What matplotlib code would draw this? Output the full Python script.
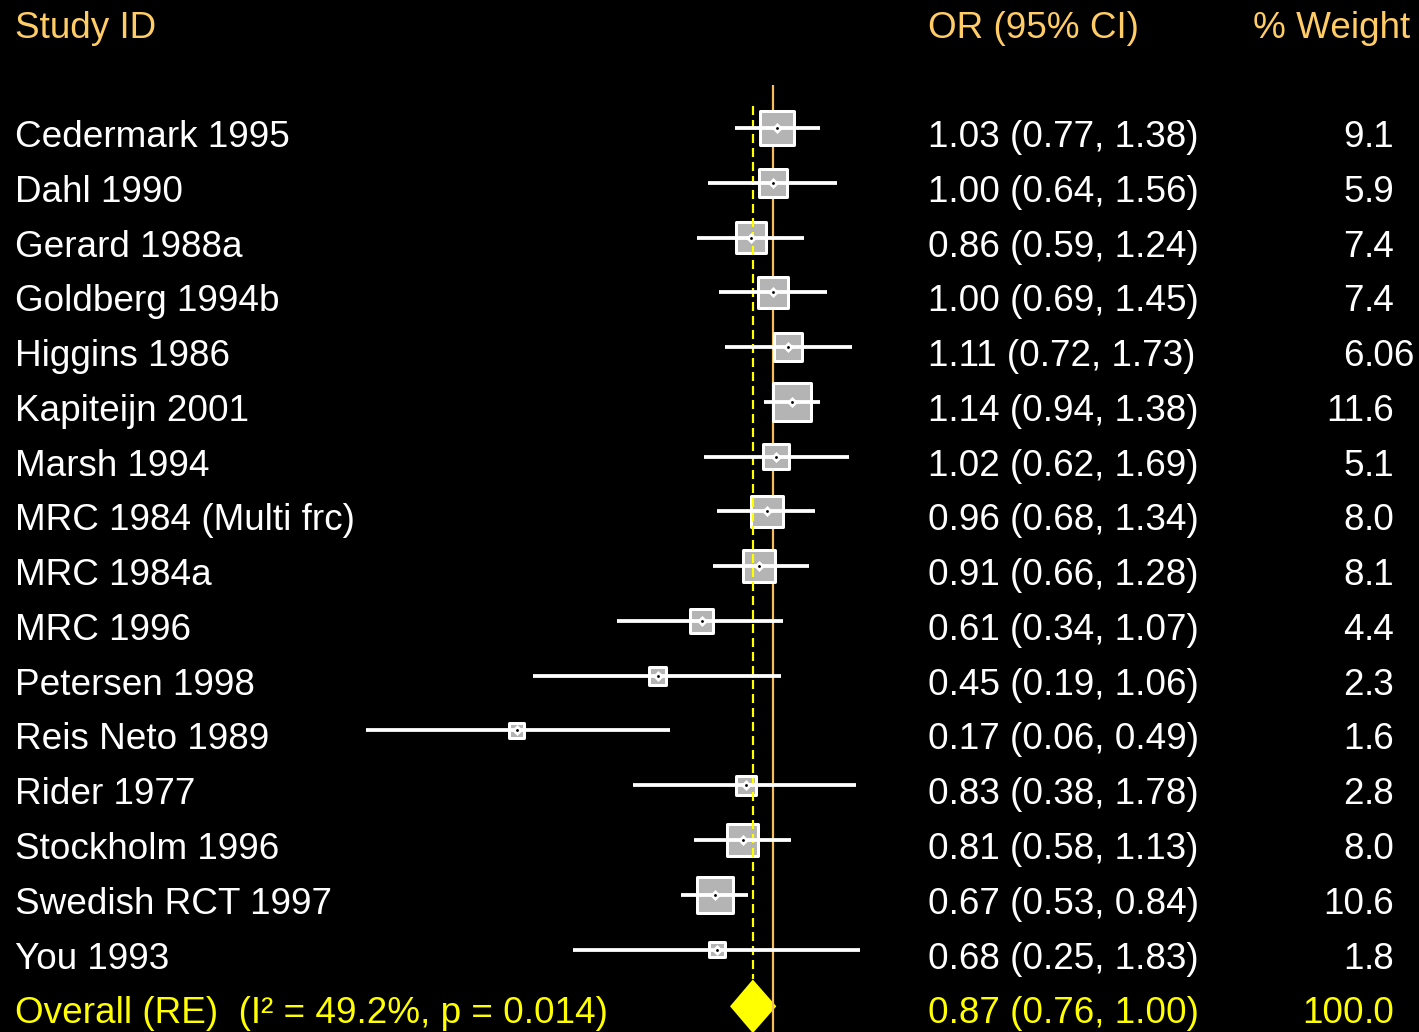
import numpy as np
import matplotlib
matplotlib.use("Agg")
import matplotlib.pyplot as plt
from matplotlib.transforms import blended_transform_factory
from matplotlib.patches import Polygon

# ---- data -------------------------------------------------------------
studies = ["Cedermark 1995", "Dahl 1990", "Gerard 1988a", "Goldberg 1994b",
           "Higgins 1986", "Kapiteijn 2001", "Marsh 1994", "MRC 1984 (Multi frc)",
           "MRC 1984a", "MRC 1996", "Petersen 1998", "Reis Neto 1989",
           "Rider 1977", "Stockholm 1996", "Swedish RCT 1997", "You 1993"]
odds = [1.03, 1.00, 0.86, 1.00, 1.11, 1.14, 1.02, 0.96, 0.91, 0.61, 0.45,
        0.17, 0.83, 0.81, 0.67, 0.68]
ci_low = [0.77, 0.64, 0.59, 0.69, 0.72, 0.94, 0.62, 0.68, 0.66, 0.34, 0.19,
          0.06, 0.38, 0.58, 0.53, 0.25]
ci_high = [1.38, 1.56, 1.24, 1.45, 1.73, 1.38, 1.69, 1.34, 1.28, 1.07, 1.06,
           0.49, 1.78, 1.13, 0.84, 1.83]
weights = ["9.1", "5.9", "7.4", "7.4", "6.06", "11.6", "5.1", "8.0", "8.1",
           "4.4", "2.3", "1.6", "2.8", "8.0", "10.6", "1.8"]

overall_label = "Overall (RE)  (I\u00b2 = 49.2%, p = 0.014)"
overall_or = 0.87
overall_low = 0.76
overall_high = 1.00
overall_weight = "100.0"

headers = ["Study ID", "OR (95% CI)", "% Weight"]

# ---- layout -----------------------------------------------------------
W, H, DPI = 1419, 1032, 100
null_px = 773.0          # horizontal pixel of OR = 1
px_per_decade = 333.0
row0_px = 128.0          # pixel row of first study
row_step = 54.77         # pixels between rows
fs = 26.6

HEAD_C = "#FFCC66"
NULL_C = "#F7BC5C"
YEL = "#FFFF00"
WHITE = "#FFFFFF"
BOX_FILL = "#B4B4B4"

fig = plt.figure(figsize=(W / DPI, H / DPI), dpi=DPI, facecolor="black")
ax = fig.add_axes([0, 0, 1, 1])
ax.set_facecolor("black")
ax.set_xscale("log")
ax.set_xlim(10 ** (-null_px / px_per_decade), 10 ** ((W - null_px) / px_per_decade))
ax.set_ylim((H - row0_px) / row_step, -row0_px / row_step)
ax.axis("off")

tr = blended_transform_factory(ax.transAxes, ax.transData)
px2pt = 72.0 / DPI
base_off = 19.0 / row_step     # text baseline below row centre

n = len(studies)
rows = np.arange(n)
overall_row = n
y_bottom = (H - row0_px) / row_step

# pooled-estimate diamond
dia_y = overall_row + 2.0 / row_step
half_h = 23.0 / row_step
diamond = Polygon([[overall_low, dia_y], [overall_or, dia_y - half_h],
                   [overall_high, dia_y], [overall_or, dia_y + half_h]],
                  closed=True, facecolor=YEL, edgecolor=YEL,
                  linewidth=5.0 * px2pt, joinstyle="miter", zorder=1)
ax.add_patch(diamond)

# line of no effect
ax.plot([1, 1], [-43.0 / row_step, y_bottom], color=NULL_C, lw=2.2 * px2pt,
        zorder=2, solid_capstyle="butt")

# weight boxes (area proportional to weight)
w_num = np.array([float(w) for w in weights])
side_px = 10.7 * np.sqrt(w_num) + 1.5
ax.scatter(odds, rows, s=(side_px * px2pt) ** 2, marker="s", facecolor=BOX_FILL,
           edgecolor=WHITE, linewidths=3.0 * px2pt, zorder=3)

# pooled estimate dashed line
lw_d = 2.2 * px2pt
ax.plot([overall_or, overall_or], [-22.0 / row_step, dia_y - half_h - 4.0 / row_step],
        color=YEL, lw=lw_d, linestyle=(0, (9 * px2pt / lw_d, 5 * px2pt / lw_d)),
        zorder=4)

# confidence intervals
for i in range(n):
    ax.plot([ci_low[i], ci_high[i]], [rows[i], rows[i]], color=WHITE,
            lw=3.8 * px2pt, solid_capstyle="butt", zorder=5)

# point estimate markers
ax.scatter(odds, rows, s=(7.8 * px2pt) ** 2, marker="D", color=WHITE,
           linewidths=0, zorder=6)
ax.scatter(odds, rows, s=(2.8 * px2pt) ** 2, marker="o", color="black",
           linewidths=0, zorder=7)

# ---- text columns ------------------------------------------------------
font = dict(family=["Liberation Sans", "DejaVu Sans"], fontsize=fs)
x_study = 15 / W
x_or = 928 / W
x_dec = 1364 / W

head_y = (38.0 - row0_px) / row_step
ax.text(x_study, head_y, headers[0], color=HEAD_C, transform=tr, va="baseline", ha="left", **font)
ax.text(x_or, head_y, headers[1], color=HEAD_C, transform=tr, va="baseline", ha="left", **font)
ax.text(1253 / W, head_y, headers[2], color=HEAD_C, transform=tr, va="baseline", ha="left", **font)


def weight_text(y, s, color):
    ip, fp = s.split(".")
    ax.text(x_dec, y, ip, color=color, transform=tr, va="baseline", ha="right", **font)
    ax.text(x_dec, y, "." + fp, color=color, transform=tr, va="baseline", ha="left", **font)


for i in range(n):
    y = rows[i] + base_off
    ax.text(x_study, y, studies[i], color=WHITE, transform=tr, va="baseline", ha="left", **font)
    ax.text(x_or, y, f"{odds[i]:.2f} ({ci_low[i]:.2f}, {ci_high[i]:.2f})", color=WHITE,
            transform=tr, va="baseline", ha="left", **font)
    weight_text(y, weights[i], WHITE)

y = overall_row + base_off
ax.text(x_study, y, overall_label, color=YEL, transform=tr, va="baseline", ha="left", **font)
ax.text(x_or, y, f"{overall_or:.2f} ({overall_low:.2f}, {overall_high:.2f})", color=YEL,
        transform=tr, va="baseline", ha="left", **font)
weight_text(y, overall_weight, YEL)

fig.savefig("out.png", dpi=DPI, facecolor="black")
